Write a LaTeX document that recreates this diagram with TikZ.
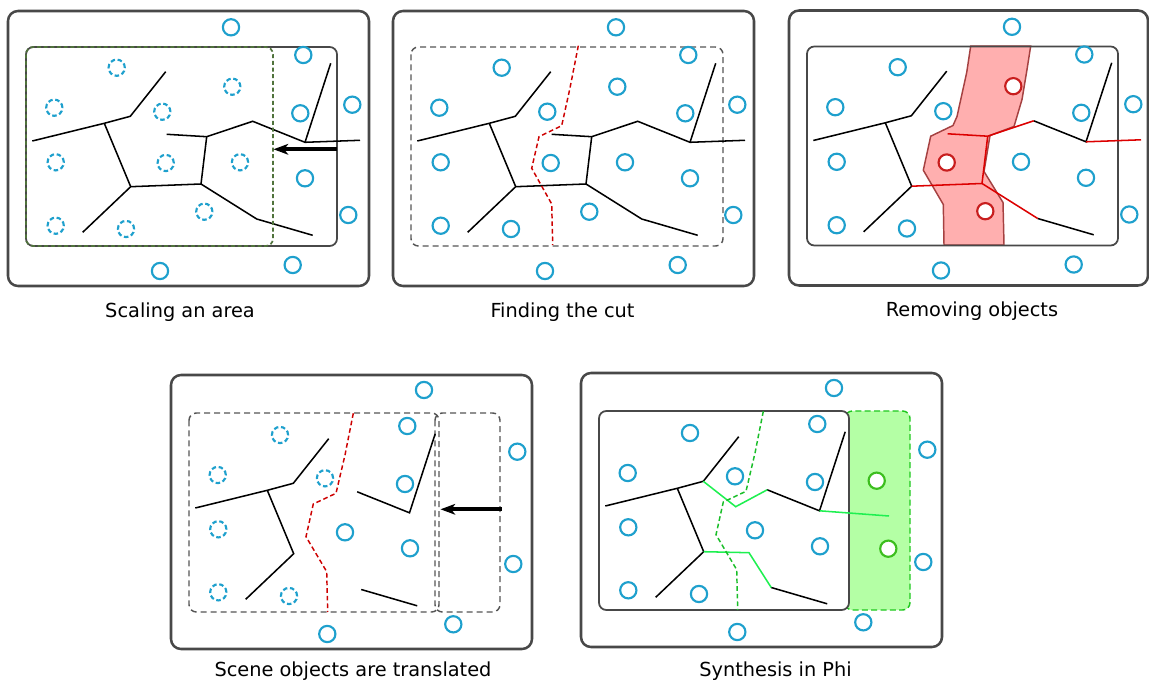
\documentclass[tikz,border=0pt]{standalone}
\usepackage{fontspec}
\setmainfont{DejaVu Sans}
\usetikzlibrary{arrows.meta}
\definecolor{boxgray}{RGB}{72,72,72}
\definecolor{dashgray}{RGB}{85,85,85}
\definecolor{cblue}{RGB}{30,160,205}
\definecolor{cred}{RGB}{220,0,0}
\definecolor{cutred}{RGB}{205,0,0}
\definecolor{pinkfill}{RGB}{255,175,175}
\definecolor{pinkdraw}{RGB}{165,65,65}
\definecolor{redcirc}{RGB}{200,30,30}
\definecolor{gline}{RGB}{30,240,80}
\definecolor{gcut}{RGB}{25,190,40}
\definecolor{gfill}{RGB}{180,255,165}
\definecolor{gdraw}{RGB}{30,200,30}
\definecolor{gcirc}{RGB}{60,190,30}
\definecolor{olivegreen}{RGB}{80,115,60}
\tikzset{
 outerbox/.style={draw=boxgray, line width=1.9pt, rounded corners=7.5pt},
 innerbox/.style={draw=boxgray, line width=1.3pt, rounded corners=5.5pt},
 dashbox/.style={draw=dashgray, line width=1.1pt, dash pattern=on 4.5pt off 3pt, rounded corners=5.5pt},
 olivebox/.style={draw=olivegreen, line width=1.25pt, dash pattern=on 3pt off 2pt, rounded corners=5.5pt},
 greenbox/.style={draw=gdraw, fill=gfill, line width=1.1pt, dash pattern=on 4.5pt off 2.5pt, rounded corners=5.5pt},
 obj/.style={draw=cblue, line width=1.6pt},
 dobj/.style={obj, dash pattern=on 3.4pt off 2pt},
 robj/.style={draw=redcirc, fill=white, line width=1.6pt},
 gobj/.style={draw=gcirc, fill=white, line width=1.6pt},
 edge/.style={draw=black, line width=1.15pt},
 redge/.style={draw=cred, line width=1.15pt},
 gedge/.style={draw=gline, line width=1.15pt},
 cutline/.style={draw=cutred, line width=1.1pt, dash pattern=on 3.5pt off 2.2pt},
 gcutline/.style={draw=gcut, line width=1.1pt, dash pattern=on 3.5pt off 2.2pt},
 band/.style={draw=pinkdraw, fill=pinkfill, line width=1.1pt},
 push/.style={draw=black, line width=3pt, -{Stealth[length=11pt,width=8pt,inset=3pt]}},
 caption/.style={anchor=base, font=\fontsize{14.5}{17}\selectfont, text=black, inner sep=0pt},
}
\newcommand{\basegraph}[1]{%
 \coordinate (#1p1) at (32.3,141);
 \coordinate (#1p2) at (104.3,123.3);
 \coordinate (#1p3) at (130.3,116.3);
 \coordinate (#1p4) at (165.7,71.7);
 \coordinate (#1p5) at (130.7,186.7);
 \coordinate (#1p6) at (201,184);
 \coordinate (#1p7) at (82.7,232.3);
 \coordinate (#1p8) at (206.7,136.7);
 \coordinate (#1p9) at (166.7,134.3);
 \coordinate (#1p10) at (252.7,121.3);
 \coordinate (#1p11) at (305,142.3);
 \coordinate (#1p12) at (360,140.3);
 \coordinate (#1p13) at (330.7,63.3);
 \coordinate (#1p14) at (256.7,219);
 \coordinate (#1p15) at (312.7,235.3);
}
\newcommand{\outerobjs}{(231,27.3),(303.3,55),(352.3,104.7),(300.3,113.3),(305,178.3),(348.3,215),(292.7,265),(160,271)}
\newcommand{\keptobjs}{(116.7,67.7),(54.3,107.7),(162.3,111.7),(55.7,162.3),(240,162.3),(55.7,225.7),(126,229)}
\newcommand{\cutobjs}{(232.3,86.7),(165.7,163),(204.3,211.7)}
\newcommand{\lowsolid}{(424,390),(407.3,426),(517.3,451.7),(405,484),(345,532.3),(410,548.3),(513.3,564),(453.3,624.3),(327.3,634)}
\newcommand{\lowdashed}{(280,435),(217.7,475),(325,478.3),(218.3,529.3),(218.3,592.3),(289,596)}
\begin{document}
\begin{tikzpicture}[x=0.75pt,y=-0.75pt]
\useasboundingbox (0,0) rectangle (1149,680);

% ---------- Panel 1: Scaling an area
\draw[outerbox] (8,11) rectangle (369,286);
\draw[innerbox] (26,47) rectangle (337,246);
\basegraph{A}
\draw[edge] (Ap1)--(Ap2)--(Ap3)--(Ap4);
\draw[edge] (Ap2)--(Ap5)--(Ap6)--(Ap8);
\draw[edge] (Ap5)--(Ap7);
\draw[edge] (Ap9)--(Ap8)--(Ap10)--(Ap11)--(Ap12);
\draw[edge] (Ap11)--(Ap13);
\draw[edge] (Ap6)--(Ap14)--(Ap15);
\foreach \p in \outerobjs {\draw[obj] \p circle[radius=6.1pt];}
\foreach \p in \keptobjs {\draw[dobj] \p circle[radius=6.1pt];}
\foreach \p in \cutobjs {\draw[dobj] \p circle[radius=6.1pt];}
\draw[olivebox] (26,47) rectangle (273,246);
\coordinate (A-from) at (336.5,149.3);
\coordinate (A-to) at (273.5,149.3);
\draw[push] (A-from) -- (A-to);
\node[caption] (cap1) at (180,317.5) {Scaling an area};

% ---------- Panel 2: Finding the cut
\begin{scope}[shift={(385,0)}]
\draw[outerbox] (8,11) rectangle (369,286);
\draw[dashbox] (26,47) rectangle (338,246);
\basegraph{B}
\draw[edge] (Bp1)--(Bp2)--(Bp3)--(Bp4);
\draw[edge] (Bp2)--(Bp5)--(Bp6)--(Bp8);
\draw[edge] (Bp5)--(Bp7);
\draw[edge] (Bp9)--(Bp8)--(Bp10)--(Bp11)--(Bp12);
\draw[edge] (Bp11)--(Bp13);
\draw[edge] (Bp6)--(Bp14)--(Bp15);
\foreach \p in \outerobjs {\draw[obj] \p circle[radius=6.1pt];}
\foreach \p in \keptobjs {\draw[obj] \p circle[radius=6.1pt];}
\foreach \p in \cutobjs {\draw[obj] \p circle[radius=6.1pt];}
\draw[cutline] (193.3,45.7)--(185,88)--(176.7,125.7)--(154,136.7)--(146.7,168.3)--(166.7,204)--(167.7,245);
\end{scope}
\node[caption] (cap2) at (562.5,317.5) {Finding the cut};

% ---------- Panel 3: Removing objects
\begin{scope}[shift={(781,-0.5)}]
\draw[outerbox] (8,11) rectangle (367,286);
\draw[band] (189.7,46.5)--(185.7,73)--(176,117)--(172,126)--(149.7,136.7)--(142.3,170.7)--(162.3,205)--(163,245.5)
  --(223,245.5)--(222,203)--(203,172)--(209,136)--(233,127)--(241,100)--(246,70)--(249.7,46.5)--cycle;
\draw[innerbox] (26,47) rectangle (337,246);
\basegraph{C}
\draw[edge] (Cp1)--(Cp2)--(Cp3)--(Cp4);
\draw[edge] (Cp2)--(Cp5)--(Cp7);
\draw[edge] (Cp10)--(Cp11)--(Cp13);
\draw[edge] (Cp14)--(Cp15);
\draw[redge] (Cp9)--(Cp8)--(Cp10);
\draw[redge] (Cp8)--(Cp6);
\draw[redge] (Cp5)--(Cp6)--(Cp14);
\draw[redge] (Cp11)--(Cp12);
\foreach \p in \outerobjs {\draw[obj] \p circle[radius=6.1pt];}
\foreach \p in \keptobjs {\draw[obj] \p circle[radius=6.1pt];}
\foreach \p in \cutobjs {\draw[robj] \p circle[radius=6.1pt];}
\end{scope}
\node[caption] (cap3) at (972,316.5) {Removing objects};

% ---------- Panel 4: Scene objects are translated
\draw[outerbox] (171,375) rectangle (532,649);
\draw[dashbox] (435,413) rectangle (500,612);
\draw[dashbox] (189,413) rectangle (439,612);
\begin{scope}[shift={(163,367)}]
\basegraph{D}
\end{scope}
\begin{scope}[shift={(104.5,370.5)}]
\basegraph{E}
\end{scope}
\draw[edge] (Dp1)--(Dp2)--(Dp3)--(Dp4);
\draw[edge] (Dp2)--(Dp5)--(Dp7);
\draw[edge] (Ep10)--(Ep11)--(Ep13);
\draw[edge] (Ep14)--(Ep15);
\foreach \p in \lowsolid {\draw[obj] \p circle[radius=6.1pt];}
\foreach \p in \lowdashed {\draw[dobj] \p circle[radius=6.1pt];}
\draw[cutline] (353.3,413.3)--(345,455)--(336,493.3)--(313.3,504)--(306,536.7)--(326.7,571.7)--(327.7,612);
\coordinate (D-from) at (501.5,509.3);
\coordinate (D-to) at (440.5,509.3);
\draw[push] (D-from) -- (D-to);
\node[caption] (cap4) at (353,676) {Scene objects are translated};

% ---------- Panel 5: Synthesis in Phi
\begin{scope}[shift={(410,-2)}]
\draw[outerbox] (171,375) rectangle (532,649);
\draw[greenbox] (435,413) rectangle (500,612);
\draw[innerbox, fill=white] (189,413) rectangle (439,612);
\begin{scope}[shift={(163,367)}]
\basegraph{F}
\end{scope}
\begin{scope}[shift={(104.5,370.5)}]
\basegraph{G}
\end{scope}
\coordinate (g1) at (325.7,508.7);
\coordinate (g2) at (479,518);
\coordinate (g3) at (339,554.7);
\draw[edge] (Fp1)--(Fp2)--(Fp3)--(Fp4);
\draw[edge] (Fp2)--(Fp5)--(Fp7);
\draw[edge] (Gp10)--(Gp11)--(Gp13);
\draw[edge] (Gp14)--(Gp15);
\draw[gedge] (Fp3)--(g1)--(Gp10);
\draw[gedge] (Gp11)--(g2);
\draw[gedge] (Fp5)--(g3)--(Gp14);
\foreach \p in \lowsolid {\draw[obj] \p circle[radius=6.1pt];}
\foreach \p in \lowdashed {\draw[obj] \p circle[radius=6.1pt];}
\draw[gobj] (466.7,482.7) circle[radius=6.1pt];
\draw[gobj] (478.3,550.7) circle[radius=6.1pt];
\draw[gcutline] (353.3,413.3)--(345,455)--(336,493.3)--(313.3,504)--(306,536.7)--(326.7,571.7)--(327.7,612);
\end{scope}
\node[caption] (cap5) at (775.5,676) {Synthesis in Phi};
\end{tikzpicture}
\end{document}
